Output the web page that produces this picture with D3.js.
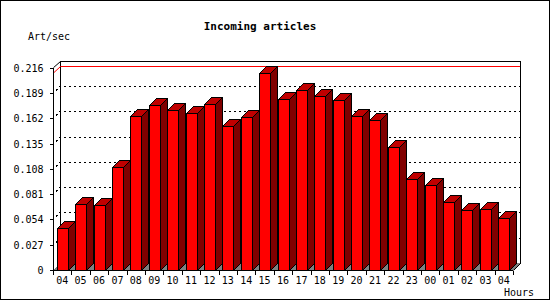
<!DOCTYPE html>
<html>
<head>
<meta charset="utf-8">
<script src="https://cdn.jsdelivr.net/npm/d3@7"></script>
<style>
  body { margin: 0; background: #fff; }
  text { font-family: "DejaVu Sans Mono", "Liberation Mono", monospace; font-size: 10px; fill: #000; }
  .title { font-weight: bold; font-size: 11px; }
</style>
</head>
<body>
<script>
var width = 550,
    height = 300,
    depth = 7;

// chart data
var hours = ["04", "05", "06", "07", "08", "09", "10", "11", "12", "13", "14", "15", "16",
             "17", "18", "19", "20", "21", "22", "23", "00", "01", "02", "03", "04"];
var artPerSec = [0.0445, 0.0704, 0.0690, 0.1102, 0.1640, 0.1758, 0.1704, 0.1672, 0.1768,
                 0.1534, 0.1630, 0.2099, 0.1822, 0.1918, 0.1854, 0.1811, 0.1640, 0.1598,
                 0.1316, 0.0968, 0.0907, 0.0722, 0.0637, 0.0648, 0.0552];
var yTicks = [0, 0.027, 0.054, 0.081, 0.108, 0.135, 0.162, 0.189, 0.216];

// plot box (front plane)
var pLeft = 53, pRight = 513, pBottom = 270, pTop = 67.6;

var x = d3.scaleBand()
    .domain(d3.range(hours.length))
    .range([pLeft, pRight])
    .padding(0);

var y = d3.scaleLinear()
    .domain([0, 0.216])
    .range([pBottom, pTop]);

var svg = d3.select("body").append("svg")
    .attr("width", width)
    .attr("height", height)
    .attr("shape-rendering", "crispEdges");

// outer frame
svg.append("rect")
    .attr("x", 0.5).attr("y", 0.5)
    .attr("width", width - 1).attr("height", height - 1)
    .attr("fill", "#fff").attr("stroke", "#000");

// back wall
var wTop = Math.round(pTop - depth) + 0.5,
    wBot = pBottom - depth + 0.5;
svg.append("rect")
    .attr("x", pLeft + depth + 0.5).attr("y", wTop)
    .attr("width", pRight - pLeft)
    .attr("height", wBot - wTop)
    .attr("fill", "#fff").attr("stroke", "#000");

// floor
svg.append("path")
    .attr("d", "M" + pLeft + "," + pBottom + "L" + (pLeft + depth) + "," + (pBottom - depth) +
               "L" + (pRight + depth) + "," + (pBottom - depth) + "L" + pRight + "," + pBottom + "Z")
    .attr("fill", "#808080").attr("stroke", "none");

// dotted grid on the back wall and left side
yTicks.slice(1, -1).forEach(function (v) {
    var yy = Math.round(y(v)) + 0.5;
    svg.append("path")
        .attr("d", "M" + (pLeft + 3) + "," + (yy - 3) + "L" + (pLeft + depth) + "," + (yy - depth) +
                   "L" + (pRight + depth) + "," + (yy - depth))
        .attr("fill", "none")
        .attr("stroke", "#000")
        .attr("stroke-dasharray", "2,3");
});

// max value line
var maxV = d3.max(artPerSec),
    my = Math.round(y(maxV)) + 0.5;
svg.append("path")
    .attr("d", "M" + (pLeft + 1) + "," + (my - 1) + "L" + (pLeft + depth + 0.5) + "," + (my - depth) +
               "L" + (pRight + depth) + "," + (my - depth))
    .attr("fill", "none")
    .attr("stroke", "#ff0000")
    .attr("shape-rendering", "auto");

// side edges
svg.append("path")
    .attr("d", "M" + (pLeft + 0.5) + "," + pTop + "L" + (pLeft + depth + 0.5) + "," + wTop)
    .attr("stroke", "#000").attr("fill", "none").attr("shape-rendering", "auto");
svg.append("path")
    .attr("d", "M" + (pRight + depth + 0.5) + "," + wBot + "L" + (pRight + 0.5) + "," + (pBottom + 0.5))
    .attr("stroke", "#000").attr("fill", "none").attr("shape-rendering", "auto");

// bars
var bw = 11, off = 3.7;
var bars = svg.selectAll("g.bar")
    .data(artPerSec)
    .enter().append("g")
    .attr("class", "bar");

bars.each(function (d, i) {
    var g = d3.select(this),
        x0 = Math.round(x(i) + off) + 0.5,
        x1 = x0 + bw,
        yt = Math.round(y(d)) + 0.5,
        yb = pBottom + 0.5;

    // side
    g.append("path")
        .attr("d", "M" + x1 + "," + yt + "L" + (x1 + depth) + "," + (yt - depth) +
                   "L" + (x1 + depth) + "," + (yb - depth) + "L" + x1 + "," + yb + "Z")
        .attr("fill", "#800000").attr("stroke", "#000");
    // top
    g.append("path")
        .attr("d", "M" + x0 + "," + yt + "L" + (x0 + depth) + "," + (yt - depth) +
                   "L" + (x1 + depth) + "," + (yt - depth) + "L" + x1 + "," + yt + "Z")
        .attr("fill", "#c00000").attr("stroke", "#000");
    // front
    g.append("rect")
        .attr("x", x0).attr("y", yt)
        .attr("width", bw).attr("height", yb - yt)
        .attr("fill", "#ff0000").attr("stroke", "#000");
});

// y axis
var yAxis = svg.append("g")
    .attr("transform", "translate(" + (pLeft + 0.5) + ",0)")
    .call(d3.axisLeft(y)
        .tickValues(yTicks)
        .tickSize(4)
        .tickPadding(6)
        .tickFormat(function (d) { return d === 0 ? "0" : d3.format(".3f")(d); }));
yAxis.attr("font-size", null).attr("font-family", null);
yAxis.select(".domain").attr("d", "M0," + pTop + "V" + (pBottom + 5));
yAxis.selectAll(".tick").attr("transform", function (d) {
    return "translate(0," + (Math.round(y(d)) + 0.5) + ")";
});

// x axis
var xAxis = svg.append("g")
    .attr("transform", "translate(0," + (pBottom + 0.5) + ")");
xAxis.append("line")
    .attr("x1", pLeft).attr("x2", pRight)
    .attr("stroke", "#000");
xAxis.selectAll("line.tick")
    .data(d3.range(hours.length + 1))
    .enter().append("line")
    .attr("class", "tick")
    .attr("x1", function (i) { return Math.round(pLeft + i * x.step()) + 0.5; })
    .attr("x2", function (i) { return Math.round(pLeft + i * x.step()) + 0.5; })
    .attr("y1", 0).attr("y2", 4)
    .attr("stroke", "#000");
xAxis.selectAll("text")
    .data(hours)
    .enter().append("text")
    .attr("x", function (d, i) { return x(i) + x.bandwidth() / 2; })
    .attr("y", 13)
    .attr("text-anchor", "middle")
    .text(function (d) { return d; });

// titles
svg.append("text")
    .attr("class", "title")
    .attr("x", 260).attr("y", 30)
    .attr("text-anchor", "middle")
    .text("Incoming articles");
svg.append("text")
    .attr("x", 28).attr("y", 40)
    .text("Art/sec");
svg.append("text")
    .attr("x", 504).attr("y", 296)
    .text("Hours");
</script>
</body>
</html>
